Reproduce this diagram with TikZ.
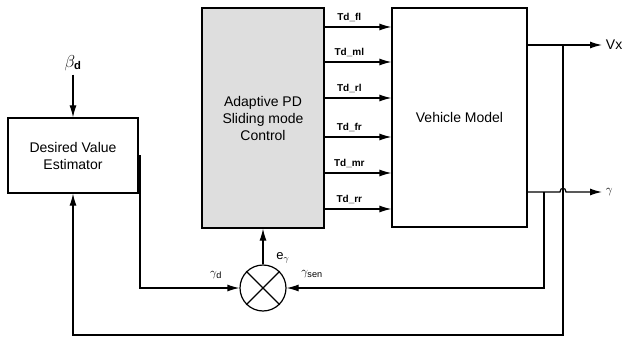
\documentclass[tikz,border=0pt]{standalone}
\usepackage{fontspec}
\setmainfont{Liberation Sans}
\usetikzlibrary{arrows.meta,calc}
\begin{document}
\begin{tikzpicture}[x=1pt,y=-1pt,
  line width=1.2pt,
  arr/.style={-{Latex[length=12pt,width=7pt]}},
  blk/.style={draw, rectangle, inner sep=0pt, align=center, font=\fontsize{14}{17}\selectfont},
  tdlab/.style={font=\fontsize{10}{11}\selectfont\bfseries},
  smlab/.style={font=\fontsize{13}{14}\selectfont}
]
\useasboundingbox (0,0) rectangle (626,342);
% blocks
\node[blk, minimum width=130pt, minimum height=75pt] (est) at (73,155.5) {Desired Value\\Estimator};
\node[blk, fill=black!13, minimum width=122pt, minimum height=220pt] (ctrl) at (263,118) {Adaptive PD\\Sliding mode\\Control};
\node[blk, minimum width=135pt, minimum height=219pt] (veh) at (459.5,117.5) {Vehicle Model};
\node[draw, circle, minimum size=46pt, inner sep=0pt] (sum) at (263,288) {};
\draw (sum.north east) -- (sum.south west);
\draw (sum.north west) -- (sum.south east);
% beta input
\node[font=\fontsize{16}{17}\selectfont] (beta) at (73,63) {$\beta_{\mathbf{d}}$};
\draw[arr] (beta.south) -- (est.north);
% torque arrows
\foreach \yy/\lab in {27/Td\_fl, 62/Td\_ml, 98/Td\_rl, 137/Td\_fr, 173/Td\_mr, 209/Td\_rr}{
  \draw[arr] (ctrl.east |- 0,\yy) -- node[tdlab, pos=0.37, above=1pt] {\lab} (veh.west |- 0,\yy);
}
% outputs
\coordinate (vxo) at (veh.east |- 0,45);
\coordinate (vxend) at (602,45);
\coordinate (vxj) at (563,45);
\coordinate (go) at (veh.east |- 0,192);
\coordinate (gend) at (602,192);
\coordinate (gj) at (544,192);
\draw[arr] (vxo) -- (vxend);
\node[anchor=west, font=\fontsize{14}{17}\selectfont] (vxlab) at (vxend) {Vx};
\draw[arr] (go) -- (560,192) .. controls (560,187) and (566,187) .. (566,192) -- (gend);
\node[anchor=west, smlab] (glab) at (gend) {$\gamma$};
% feedback of gamma to summing junction
\draw[arr] (gj) -- (544,288) -- (sum.east);
\node[smlab] (gsen) at (312,274) {$\gamma_{\mathrm{sen}}$};
% Vx feedback to estimator
\coordinate (fb1) at (563,335);
\coordinate (fb2) at (73,335);
\draw[arr] (vxj) -- (fb1) -- (fb2) -- (est.south);
% gamma_d to summing junction
\coordinate (gd1) at (140,155.5);
\coordinate (gd2) at (140,288);
\draw[arr] (est.east) -- (gd1) -- (gd2) -- (sum.west);
\node[smlab] (gdlab) at (216,275) {$\gamma_{\mathrm{d}}$};
% error to controller
\draw[arr] (sum.north) -- (ctrl.south);
\node[smlab] (elab) at (283,258) {e$_{\gamma}$};
\end{tikzpicture}
\end{document}
